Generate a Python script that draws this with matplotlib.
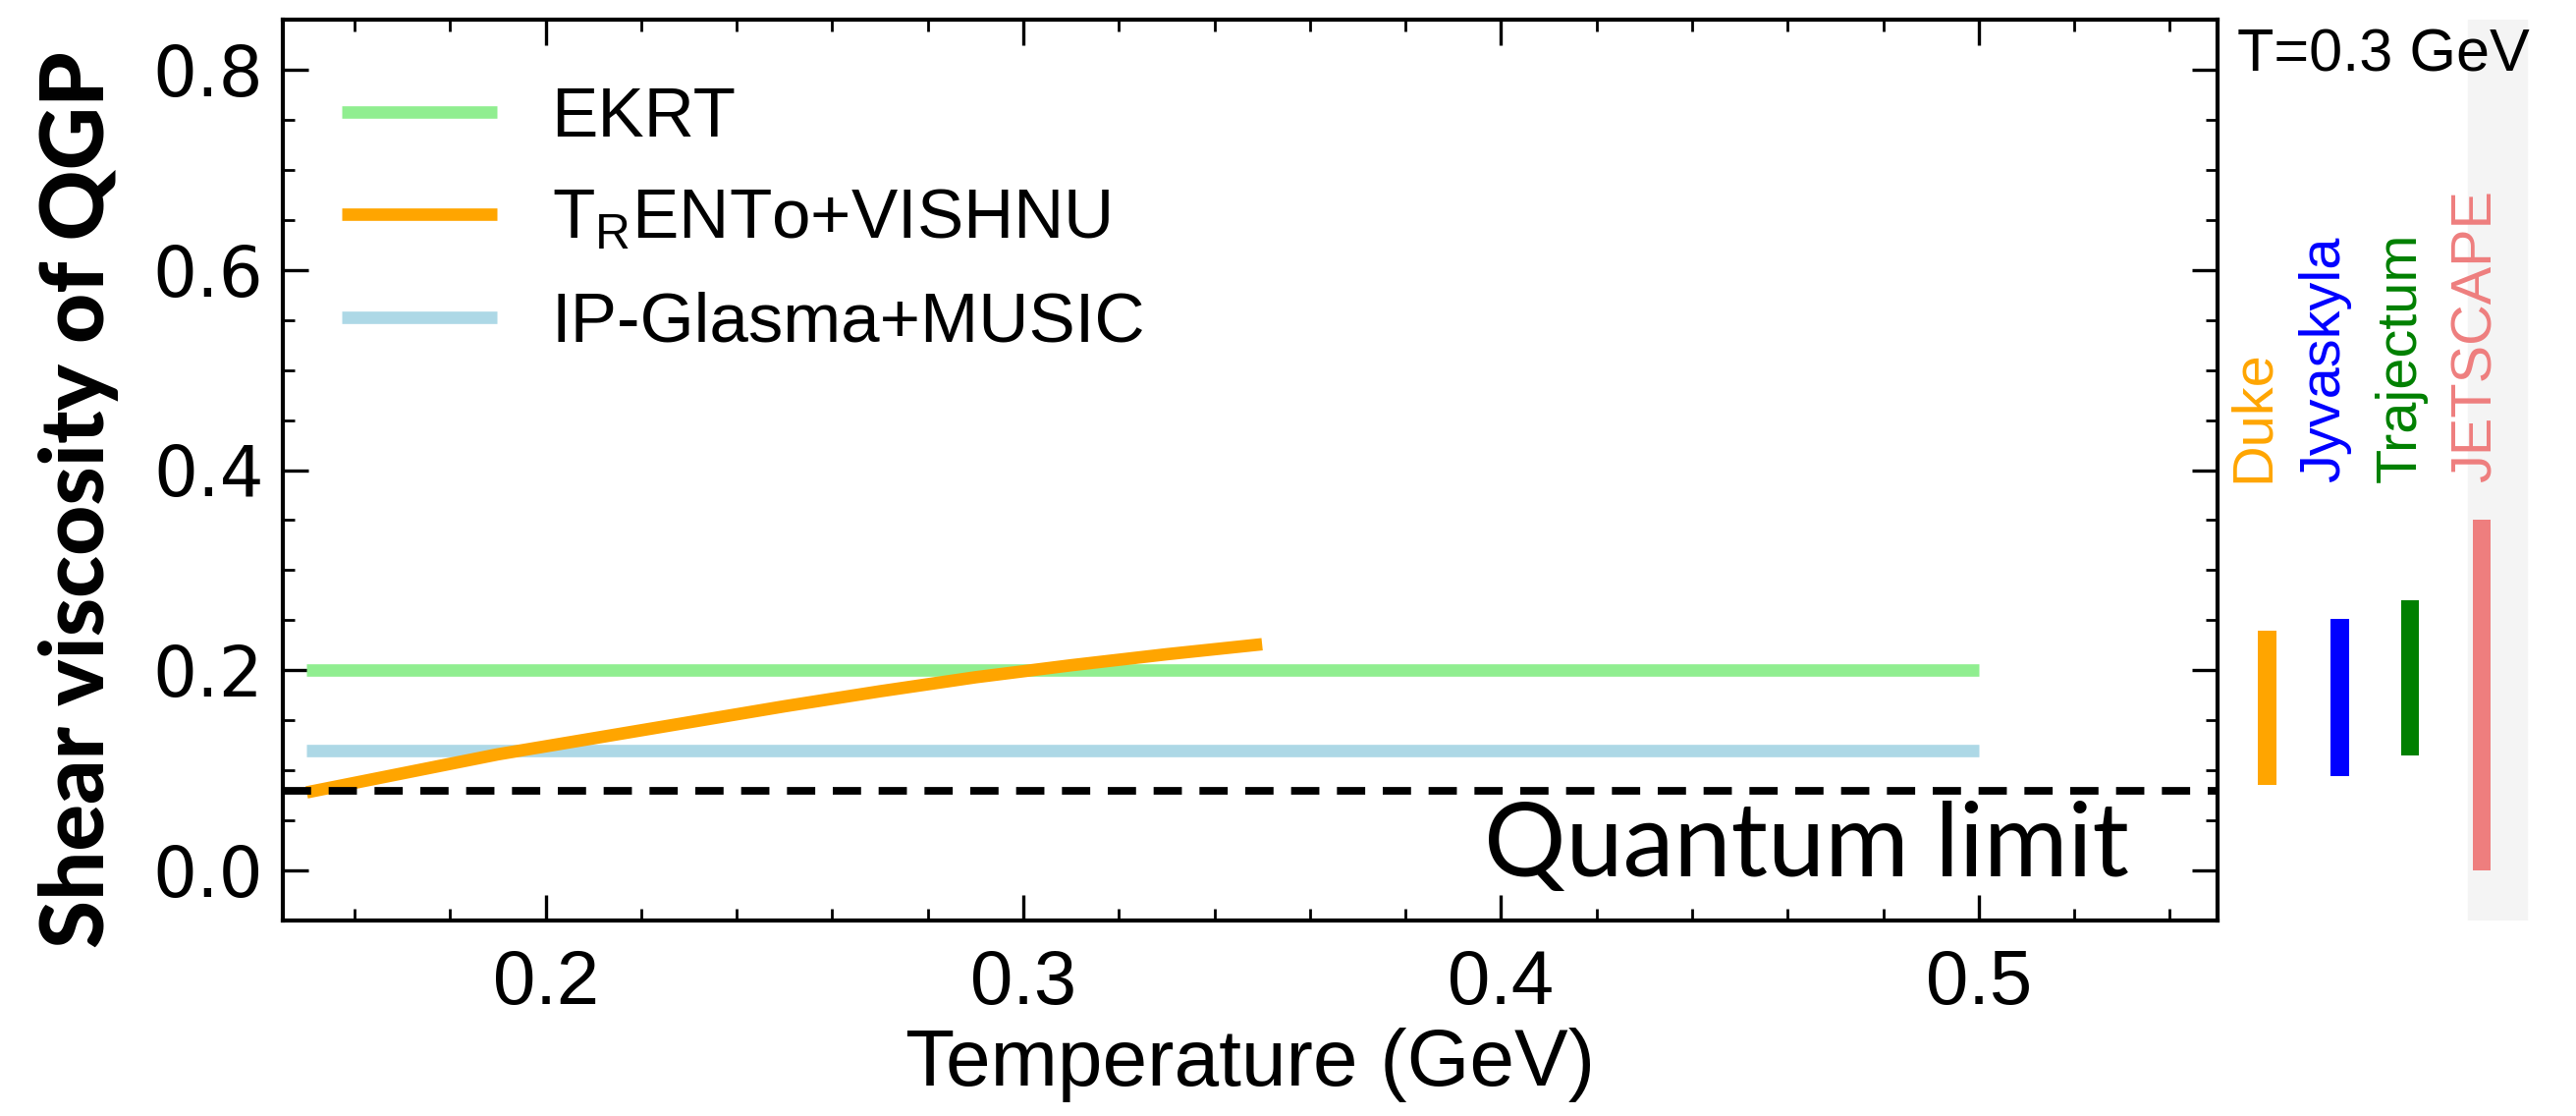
import numpy as np
import matplotlib
matplotlib.use("Agg")
import matplotlib.pyplot as plt
from matplotlib.lines import Line2D
from matplotlib.ticker import MultipleLocator

# ---------------- data ----------------
ekrt_T = [0.15, 0.50]
ekrt_eta = [0.20, 0.20]

ipglasma_T = [0.15, 0.50]
ipglasma_eta = [0.12, 0.12]

trento_T = [0.15, 0.17, 0.19, 0.21, 0.23, 0.25, 0.27, 0.29, 0.31, 0.33, 0.35]
trento_eta = [0.078, 0.097, 0.116, 0.132, 0.148, 0.164, 0.179, 0.193, 0.205, 0.216, 0.226]

quantum_limit = 1.0 / (4.0 * np.pi)

groups = ["Duke", "Jyvaskyla", "Trajectum", "JETSCAPE"]
group_low = [0.085, 0.094, 0.115, 0.0]
group_high = [0.240, 0.251, 0.270, 0.350]
group_colors = ["#FFA500", "#0000FF", "#008000", "#EE7E7E"]

legend_labels = ["EKRT", r"$\mathregular{T_{R}ENTo}$+VISHNU", "IP-Glasma+MUSIC"]
legend_colors = ["#90EE90", "#FFA500", "#ADD8E6"]

# ---------------- figure ----------------
W, H = 2623, 1136
fig = plt.figure(figsize=(W / 100, H / 100), dpi=100)

ax_l, ax_r, ax_t, ax_b = 288, 2258, 20, 937
ax = fig.add_axes([ax_l / W, 1 - ax_b / H, (ax_r - ax_l) / W, (ax_b - ax_t) / H])

lw = 9.1
ax.plot(ekrt_T, ekrt_eta, color=legend_colors[0], lw=lw, solid_capstyle="butt")
ax.plot(ipglasma_T, ipglasma_eta, color=legend_colors[2], lw=lw, solid_capstyle="butt")
ax.plot(trento_T, trento_eta, color=legend_colors[1], lw=lw, solid_capstyle="butt")
ax.axhline(quantum_limit, color="black", lw=5.6, dashes=(3.7, 2.3))

ax.set_xlim(0.145, 0.55)
ax.set_ylim(-0.05, 0.85)

ax.xaxis.set_major_locator(MultipleLocator(0.1))
ax.xaxis.set_minor_locator(MultipleLocator(0.02))
ax.yaxis.set_major_locator(MultipleLocator(0.2))
ax.yaxis.set_minor_locator(MultipleLocator(0.05))
ax.xaxis.set_major_formatter(matplotlib.ticker.FormatStrFormatter("%.1f"))
ax.yaxis.set_major_formatter(matplotlib.ticker.FormatStrFormatter("%.1f"))

ax.tick_params(which="both", direction="in", top=True, right=True, color="black")
ax.tick_params(which="major", length=18.5, width=2.4)
ax.tick_params(which="minor", length=8.8, width=2.0)
ax.tick_params(axis="x", which="major", pad=20, labelsize=56)
ax.tick_params(axis="y", which="major", pad=14, labelsize=51)
for lab in ax.get_xticklabels():
    lab.set_fontfamily("Liberation Sans")
for lab in ax.get_yticklabels():
    lab.set_fontfamily("DejaVu Sans")
for sp in ax.spines.values():
    sp.set_linewidth(3.0)

ax.set_xlabel("Temperature (GeV)", fontsize=59, family="Liberation Sans", labelpad=6)

fig.text(80 / W, 1 - 509 / H, "Shear viscosity of QGP", rotation=90,
         ha="center", va="center", fontsize=64, fontweight="black", family="Lato")

ax.text(0.3965, -0.006, "Quantum limit", fontsize=75, family="Lato",
        ha="left", va="baseline")

handles = [Line2D([], [], color=c, lw=lw, solid_capstyle="butt") for c in legend_colors]
ax.legend(handles, legend_labels, loc="upper left",
          bbox_to_anchor=(0.0303, 0.926), frameon=False, borderpad=0,
          borderaxespad=0, handlelength=2.23, handletextpad=0.79,
          labelspacing=0.54, prop={"family": "Liberation Sans", "size": 51})

# ---------------- right panel ----------------
ax2 = fig.add_axes([ax_r / W, 1 - ax_b / H, (W - ax_r) / W, (ax_b - ax_t) / H])
ax2.set_xlim(0, 1)
ax2.set_ylim(-0.05, 0.85)
ax2.axis("off")
ax2.axvspan(0.699, 0.863, color="#F4F4F4", zorder=0)

bar_x = [0.139, 0.340, 0.537, 0.737]
text_x = [0.101, 0.299, 0.512, 0.723]
heights = [h - l for h, l in zip(group_high, group_low)]
ax2.bar(bar_x, heights, bottom=group_low, width=0.052, color=group_colors, zorder=2)
for xt, name, c in zip(text_x, groups, group_colors):
    ax2.text(xt, 0.3876, name, rotation=90, ha="center", va="bottom",
             color=c, fontsize=41.5, family="Liberation Sans")
ax2.text(0.055, 0.842, "T=0.3 GeV", ha="left", va="top", fontsize=44,
         family="Liberation Sans")

fig.savefig("out.png", dpi=100)
